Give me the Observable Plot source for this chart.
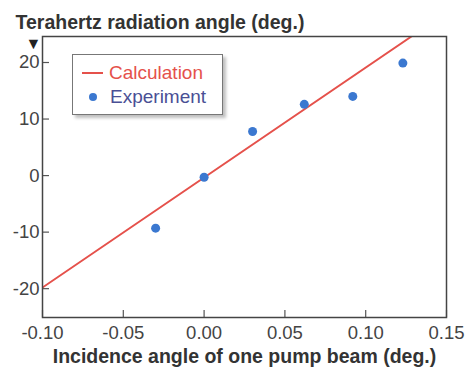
<!DOCTYPE html>
<html><head><meta charset="utf-8">
<script src="https://cdn.jsdelivr.net/npm/d3@7"></script>
<script src="https://cdn.jsdelivr.net/npm/@observablehq/plot@0.6"></script>
<style>
body{margin:0;background:#fff;font-family:"Liberation Sans",Arial,sans-serif;}
#wrap{position:relative;width:466px;height:369px;}
#legend{position:absolute;left:72px;top:54px;width:151px;height:61px;border:1.5px solid #777;background:#fff;box-shadow:3px 3px 3px rgba(0,0,0,0.25);font-size:19px;box-sizing:border-box;}
#legend .row{position:absolute;left:9px;display:flex;align-items:center;line-height:20px;}
</style></head>
<body><div id="wrap"></div>
<script>
const calcX = [-0.10, 0.1283];
const calcY = [-19.8, 24.6];
const expX = [-0.030, 0.000, 0.030, 0.062, 0.092, 0.123];
const expY = [-9.3, -0.3, 7.8, 12.6, 14.0, 19.9];
const xTicks = [-0.10, -0.05, 0.00, 0.05, 0.10, 0.15];
const yTicks = [-20, -10, 0, 10, 20];
const title = "Terahertz radiation angle (deg.)";
const xLabel = "Incidence angle of one pump beam (deg.)";
const seriesNames = ["Calculation", "Experiment"];
const colors = ["#e5514b", "#3b78d0"];

const calc = calcX.map((x, i) => ({x, y: calcY[i]}));
const exp = expX.map((x, i) => ({x, y: expY[i]}));

const W = 466, H = 369, mL = 42, mR = 20, mT = 36, mB = 52;
const plotW = W - mL - mR, plotH = H - mT - mB, tick = 7;

const chart = Plot.plot({
  width: W, height: H,
  marginLeft: mL, marginRight: mR, marginTop: mT, marginBottom: mB,
  style: {fontFamily: "Liberation Sans, Arial, sans-serif", fontSize: "19px", color: "#333", background: "transparent"},
  x: {domain: [-0.10, 0.15]},
  y: {domain: [-25.1, 24.6]},
  marks: [
    Plot.ruleX(xTicks, {x: d => d, insetTop: plotH - tick, stroke: "#555", strokeWidth: 1.2}),
    Plot.ruleY(yTicks, {y: d => d, insetRight: plotW - tick, stroke: "#555", strokeWidth: 1.2}),
    Plot.line(calc, {x: "x", y: "y", stroke: colors[0], strokeWidth: 2, clip: true}),
    Plot.dot(exp, {x: "x", y: "y", r: 4.5, fill: colors[1], stroke: "none"}),
    Plot.frame({stroke: "#444", strokeWidth: 1.5}),
    Plot.axisX({ticks: xTicks, tickFormat: d => d.toFixed(2), tickSize: 0, tickPadding: 8, label: null, fill: "#444", fontSize: 18.5}),
    Plot.axisY({ticks: yTicks, tickFormat: d => String(d), tickSize: 0, tickPadding: 3, label: null, fill: "#444", fontSize: 18.5}),
    Plot.text([title], {text: d => d, frameAnchor: "top-left", dx: -27, dy: -21, textAnchor: "start", fontWeight: "bold", fontSize: 19.5, fill: "#333"}),
    Plot.text(["▼"], {text: d => d, frameAnchor: "top-left", dx: -17, dy: 1, fontSize: 16, fill: "#222"}),
    Plot.text([xLabel], {text: d => d, frameAnchor: "bottom", dy: 45, fontWeight: "bold", fontSize: 19.5, fill: "#333"})
  ]
});
const wrap = document.getElementById("wrap");
wrap.appendChild(chart);
const leg = document.createElement("div");
leg.id = "legend";
leg.innerHTML = `<div class="row" style="top:8px"><span style="display:inline-block;width:21px;height:2px;background:${colors[0]};margin-right:6px"></span><span style="color:${colors[0]}">${seriesNames[0]}</span></div>
<div class="row" style="top:32px"><span style="display:inline-block;width:8px;height:8px;border-radius:50%;background:${colors[1]};margin:0 13px 0 7px"></span><span style="color:#4a4f95">${seriesNames[1]}</span></div>`;
wrap.appendChild(leg);
</script></body></html>
